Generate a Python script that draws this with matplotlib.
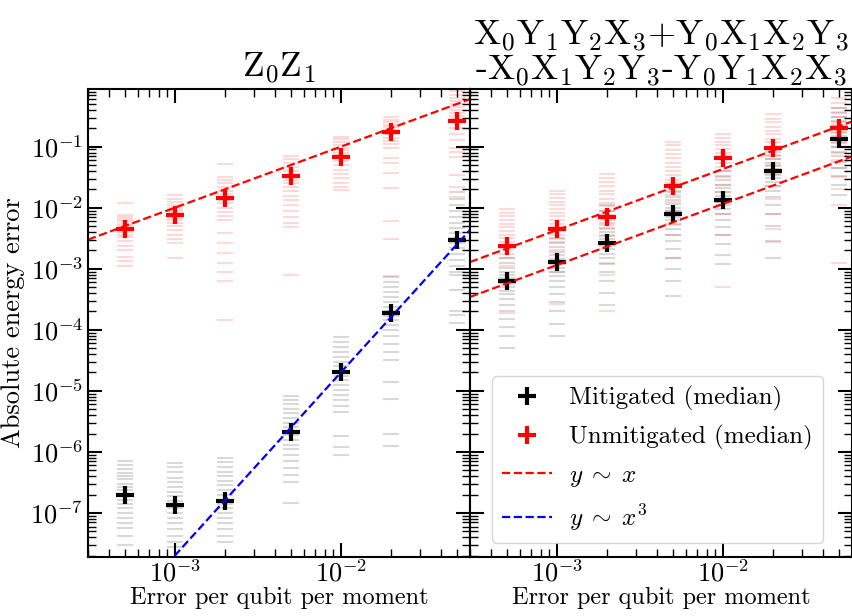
import numpy as np
import matplotlib.pyplot as plt
from matplotlib.lines import Line2D
from matplotlib.ticker import LogLocator, NullFormatter

plt.rcParams.update({
    'font.family': 'serif',
    'font.serif': ['cmr10'],
    'mathtext.fontset': 'cm',
    'axes.formatter.use_mathtext': True,
    'axes.unicode_minus': False,
    'font.size': 18,
})

# error rates (x axis)
x_err = [5e-4, 1e-3, 2e-3, 5e-3, 1e-2, 2e-2, 5e-2]

# Z0Z1 panel: medians
zz_mit_med = [2.0e-7, 1.35e-7, 1.55e-7, 2.1e-6, 2.0e-5, 1.9e-4, 3.0e-3]
zz_unmit_med = [4.5e-3, 7.5e-3, 1.45e-2, 3.3e-2, 6.8e-2, 1.75e-1, 2.6e-1]

# Z0Z1 panel: individual runs (log10 of the error)
zz_mit_runs = [
    [-6.15, -6.22, -6.28, -6.35, -6.4, -6.45, -6.52, -6.58, -6.63, -6.7, -6.78, -6.85, -6.92, -7.0, -7.08, -7.17, -7.25, -7.38, -7.53],
    [-6.18, -6.25, -6.33, -6.42, -6.5, -6.58, -6.65, -6.72, -6.8, -6.86, -6.92, -7.0, -7.08, -7.17, -7.27, -7.38, -7.48, -7.55],
    [-6.1, -6.17, -6.25, -6.33, -6.4, -6.48, -6.55, -6.62, -6.7, -6.78, -6.85, -6.92, -7.0, -7.08, -7.17, -7.27, -7.38, -7.47],
    [-5.08, -5.15, -5.22, -5.3, -5.37, -5.45, -5.52, -5.6, -5.67, -5.73, -5.8, -5.88, -5.96, -6.05, -6.15, -6.27, -6.38, -6.49, -6.83],
    [-4.12, -4.2, -4.28, -4.36, -4.44, -4.52, -4.6, -4.68, -4.75, -4.82, -4.9, -4.98, -5.06, -5.15, -5.25, -5.35, -5.74, -5.92, -6.05],
    [-3.13, -3.22, -3.3, -3.38, -3.46, -3.54, -3.62, -3.7, -3.77, -3.84, -3.92, -4.0, -4.1, -4.23, -4.37, -4.49, -4.85, -5.13, -5.7, -5.9],
    [-1.74, -1.85, -1.95, -2.05, -2.15, -2.25, -2.33, -2.42, -2.5, -2.58, -2.66, -2.75, -2.85, -2.95, -3.05, -3.1, -3.34, -3.7, -3.76, -3.89],
]
zz_unmit_runs = [
    [-1.92, -2.12, -2.15, -2.18, -2.22, -2.26, -2.3, -2.34, -2.36, -2.4, -2.44, -2.48, -2.55, -2.62, -2.7, -2.8, -2.88, -2.95],
    [-1.79, -1.85, -1.9, -1.95, -2.0, -2.03, -2.07, -2.1, -2.13, -2.17, -2.2, -2.25, -2.3, -2.37, -2.45, -2.52, -2.57, -2.83],
    [-1.28, -1.5, -1.55, -1.6, -1.66, -1.72, -1.78, -1.83, -1.88, -1.93, -2.0, -2.07, -2.14, -2.2, -2.41, -2.57, -2.74, -2.9, -3.06, -3.2, -3.84],
    [-1.15, -1.2, -1.27, -1.33, -1.4, -1.46, -1.5, -1.55, -1.6, -1.66, -1.72, -1.8, -1.88, -1.95, -2.05, -2.15, -2.25, -2.31, -3.11],
    [-0.84, -0.88, -0.92, -0.97, -1.02, -1.06, -1.1, -1.14, -1.18, -1.23, -1.3, -1.38, -1.45, -1.52, -1.6, -1.66, -1.71],
    [-0.52, -0.56, -0.6, -0.64, -0.68, -0.72, -0.76, -0.8, -0.85, -0.9, -0.95, -1.02, -1.18, -1.27, -1.43, -1.67, -2.21, -2.52, -3.12],
    [-0.09, -0.15, -0.2, -0.25, -0.3, -0.35, -0.4, -0.45, -0.5, -0.55, -0.6, -0.7, -0.8, -0.89, -1.02, -1.09, -1.17, -1.46, -1.66, -1.82],
]

# XYYX panel: medians
xy_mit_med = [6.3e-4, 1.3e-3, 2.6e-3, 7.8e-3, 1.35e-2, 4.0e-2, 1.35e-1]
xy_unmit_med = [2.4e-3, 4.4e-3, 7.0e-3, 2.3e-2, 6.6e-2, 9.5e-2, 2.0e-1]

xy_mit_runs = [
    [-2.82, -2.9, -2.98, -3.05, -3.1, -3.15, -3.2, -3.25, -3.3, -3.36, -3.42, -3.5, -3.6, -3.7, -3.82, -3.95, -4.1, -4.3],
    [-2.5, -2.58, -2.65, -2.72, -2.78, -2.84, -2.88, -2.92, -2.98, -3.05, -3.12, -3.2, -3.3, -3.42, -3.55, -3.7, -3.9, -4.1],
    [-1.95, -2.05, -2.15, -2.25, -2.33, -2.4, -2.46, -2.52, -2.57, -2.62, -2.68, -2.75, -2.83, -2.92, -3.05, -3.2, -3.4, -3.6],
    [-1.75, -1.82, -1.88, -1.94, -2.0, -2.05, -2.1, -2.15, -2.2, -2.27, -2.35, -2.45, -2.55, -2.68, -2.82, -3.0, -3.2, -3.44],
    [-1.4, -1.48, -1.55, -1.62, -1.68, -1.74, -1.8, -1.85, -1.9, -1.96, -2.02, -2.1, -2.2, -2.32, -2.45, -2.6, -2.78, -2.93],
    [-1.08, -1.15, -1.2, -1.26, -1.32, -1.37, -1.42, -1.47, -1.52, -1.58, -1.65, -1.72, -1.82, -1.95, -2.1, -2.3, -2.55, -2.82],
    [-0.37, -0.45, -0.52, -0.58, -0.64, -0.7, -0.76, -0.82, -0.88, -0.94, -1.0, -1.08, -1.16, -1.25, -1.35, -1.48, -1.62, -1.79],
]
xy_unmit_runs = [
    [-2.02, -2.08, -2.14, -2.2, -2.26, -2.32, -2.38, -2.44, -2.5, -2.56, -2.62, -2.68, -2.75, -2.82, -2.95, -3.2, -3.73],
    [-1.72, -1.78, -1.84, -1.9, -1.96, -2.02, -2.08, -2.14, -2.2, -2.26, -2.32, -2.38, -2.45, -2.52, -2.56, -2.7, -3.05, -3.58],
    [-1.45, -1.52, -1.58, -1.65, -1.72, -1.78, -1.85, -1.92, -1.98, -2.05, -2.12, -2.2, -2.28, -2.35, -2.45, -2.6, -2.9, -3.1, -3.7],
    [-0.92, -0.98, -1.05, -1.12, -1.19, -1.26, -1.33, -1.4, -1.47, -1.54, -1.6, -1.66, -1.72, -1.79, -1.9, -2.05, -2.28, -2.44, -2.82],
    [-0.8, -0.86, -0.92, -0.98, -1.04, -1.1, -1.15, -1.2, -1.26, -1.33, -1.4, -1.5, -1.62, -1.75, -1.9, -2.1, -2.44, -3.3],
    [-0.47, -0.54, -0.6, -0.67, -0.74, -0.8, -0.87, -0.93, -1.0, -1.06, -1.13, -1.2, -1.3, -1.45, -1.65, -1.85, -2.1, -2.35, -2.56],
    [-0.2, -0.28, -0.36, -0.44, -0.52, -0.6, -0.66, -0.72, -0.78, -0.85, -0.92, -1.0, -1.1, -1.22, -1.35, -1.5, -1.7, -1.95, -2.9],
]

# scaling guides: y = c * x^p
zz_lin_coef = 10.0
zz_cube_coef = 20.0
xy_unmit_coef = 4.3
xy_mit_coef = 1.15

x_lim = (3e-4, 6e-2)
y_lim = (1.9e-8, 0.88)
y_major = [1e-7, 1e-6, 1e-5, 1e-4, 1e-3, 1e-2, 1e-1]
x_major = [1e-3, 1e-2]

fig, (ax1, ax2) = plt.subplots(1, 2, figsize=(8.52, 6.16), dpi=100, sharey=True)
fig.subplots_adjust(left=0.1033, right=1.0, bottom=0.0958, top=0.8555, wspace=0)


def draw_runs(ax, runs, color):
    for xv, logs in zip(x_err, runs):
        ax.plot([xv] * len(logs), 10 ** np.array(logs), ls='none', marker='_',
                ms=11, mew=1.5, color=color, alpha=0.15)


def draw_median(ax, med, color):
    ax.plot(x_err, med, ls='none', marker='+', ms=13, mew=3, color=color)


xx = np.array(x_lim)

# left panel
draw_runs(ax1, zz_mit_runs, 'black')
draw_runs(ax1, zz_unmit_runs, 'red')
draw_median(ax1, zz_mit_med, 'black')
draw_median(ax1, zz_unmit_med, 'red')
ax1.plot(xx, zz_lin_coef * xx, '--', color='red', lw=1.6)
ax1.plot(xx, zz_cube_coef * xx ** 3, '--', color='blue', lw=1.6)
ax1.set_title(r'Z$_0$Z$_1$', fontsize=25.5, pad=8)
ax1.set_ylabel('Absolute energy error', fontsize=19, labelpad=4)

# right panel
draw_runs(ax2, xy_mit_runs, 'black')
draw_runs(ax2, xy_unmit_runs, 'red')
draw_median(ax2, xy_mit_med, 'black')
draw_median(ax2, xy_unmit_med, 'red')
ax2.plot(xx, xy_unmit_coef * xx, '--', color='red', lw=1.6)
ax2.plot(xx, xy_mit_coef * xx, '--', color='red', lw=1.6)
ax2.set_title('X$_0$Y$_1$Y$_2$X$_3$+Y$_0$X$_1$X$_2$Y$_3$\n'
              '-X$_0$X$_1$Y$_2$Y$_3$-Y$_0$Y$_1$X$_2$X$_3$',
              fontsize=26, linespacing=1.0, pad=4)

for ax in (ax1, ax2):
    ax.set_xscale('log')
    ax.set_yscale('log')
    ax.set_xticks(x_major)
    ax.set_yticks(y_major)
    ax.xaxis.set_minor_locator(LogLocator(base=10, subs=np.arange(2, 10), numticks=20))
    ax.yaxis.set_minor_locator(LogLocator(base=10, subs=np.arange(2, 10), numticks=20))
    ax.xaxis.set_minor_formatter(NullFormatter())
    ax.yaxis.set_minor_formatter(NullFormatter())
    ax.set_xlim(*x_lim)
    ax.set_ylim(*y_lim)
    ax.set_xlabel('Error per qubit per moment', fontsize=17.5, labelpad=0)
    ax.tick_params(which='both', direction='in', top=True, right=True, left=True)
    ax.tick_params(which='major', length=10, width=1.5, labelsize=19)
    ax.tick_params(axis='x', which='major', pad=2)
    ax.tick_params(which='minor', length=6, width=1)
    for sp in ax.spines.values():
        sp.set_linewidth(1.5)

handles = [
    Line2D([], [], ls='none', marker='+', ms=13, mew=3, color='black'),
    Line2D([], [], ls='none', marker='+', ms=13, mew=3, color='red'),
    Line2D([], [], ls='--', lw=1.6, color='red'),
    Line2D([], [], ls='--', lw=1.6, color='blue'),
]
labels = ['Mitigated (median)', 'Unmitigated (median)', r'$y\;\sim\;x$', r'$y\;\sim\;x^3$']
ax2.legend(handles, labels, loc='lower right', bbox_to_anchor=(823 / 852, 73 / 616),
           bbox_transform=fig.transFigure, borderaxespad=0, handlelength=2.0,
           handletextpad=0.7, labelspacing=0.55, framealpha=0.8)

fig.savefig('out.png', dpi=100)
